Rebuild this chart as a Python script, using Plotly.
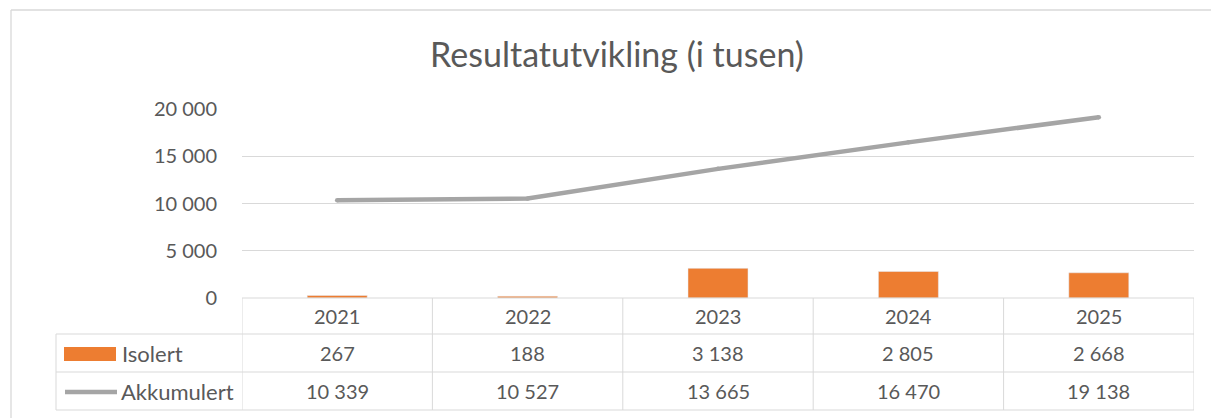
import plotly.graph_objects as go

years = ["2021", "2022", "2023", "2024", "2025"]
isolert = [267, 188, 3138, 2805, 2668]
akkumulert = [10339, 10527, 13665, 16470, 19138]
y_ticks = [0, 5000, 10000, 15000, 20000]
title_text = "Resultatutvikling (i tusen)"
series_names = ["Isolert", "Akkumulert"]

ORANGE = "#ED7D31"
GRAY = "#A5A5A5"
GRID = "#D9D9D9"
TXT = "#595959"
FONT = "Lato"

W, H = 1211, 418
# plot area in page pixels
L, R, T, B = 242, 1194, 109, 298


def px_x(px):
    return (px - L) / (R - L)


def px_y(py):
    return (B - py) / (B - T)


def fmt(v):
    return f"{v:,}".replace(",", " ")


fig = go.Figure()
fig.add_trace(go.Bar(x=years, y=isolert, name=series_names[0], marker_color=ORANGE,
                     width=0.315, showlegend=False))
fig.add_trace(go.Scatter(x=years, y=akkumulert, name=series_names[1], mode="lines+markers",
                         line=dict(color=GRAY, width=4.5), marker=dict(color=GRAY, size=4.5),
                         cliponaxis=False, showlegend=False))

shapes = []
annotations = []
line_style = dict(color=GRID, width=1)

# outer chart border (left and top edges visible)
border = dict(color=GRID, width=1.3)
shapes.append(dict(type="line", xref="paper", yref="paper", x0=px_x(11), x1=px_x(11),
                   y0=px_y(10), y1=px_y(420), line=border, layer="below"))
shapes.append(dict(type="line", xref="paper", yref="paper", x0=px_x(11), x1=px_x(1211),
                   y0=px_y(10), y1=px_y(10), line=border, layer="below"))

# table rows
row_y = [298, 334, 372, 410]
shapes.append(dict(type="line", xref="paper", yref="paper", x0=0, x1=1,
                   y0=px_y(298), y1=px_y(298), line=line_style))
for ry in row_y[1:]:
    shapes.append(dict(type="line", xref="paper", yref="paper", x0=px_x(56), x1=1,
                       y0=px_y(ry), y1=px_y(ry), line=line_style))
shapes.append(dict(type="line", xref="paper", yref="paper", x0=px_x(56), x1=px_x(56),
                   y0=px_y(334), y1=px_y(410), line=line_style))
for i in range(len(years) + 1):
    shapes.append(dict(type="line", xref="x", yref="paper", x0=i - 0.5, x1=i - 0.5,
                       y0=px_y(298), y1=px_y(410), line=line_style))

# header and values
row_centers = [316, 353, 391]
num_font = dict(family=FONT, size=20, color=TXT)
for i, yr in enumerate(years):
    for rc, txt in zip(row_centers, [yr, fmt(isolert[i]), fmt(akkumulert[i])]):
        annotations.append(dict(x=i, y=px_y(rc), xref="x", yref="paper", text=txt,
                                showarrow=False, xanchor="center", yanchor="middle",
                                font=num_font))

# legend keys
shapes.append(dict(type="rect", xref="paper", yref="paper", x0=px_x(64), x1=px_x(116),
                   y0=px_y(361), y1=px_y(347), fillcolor=ORANGE, line=dict(width=0)))
shapes.append(dict(type="line", xref="paper", yref="paper", x0=px_x(65), x1=px_x(117),
                   y0=px_y(392), y1=px_y(392), line=dict(color=GRAY, width=4.5)))
lab_font = dict(family=FONT, size=22, color=TXT)
annotations.append(dict(x=px_x(120), y=px_y(row_centers[1]), xref="paper", yref="paper",
                        text=series_names[0], showarrow=False, xanchor="left",
                        yanchor="middle", font=lab_font))
annotations.append(dict(x=px_x(119), y=px_y(row_centers[2]), xref="paper", yref="paper",
                        text=series_names[1], showarrow=False, xanchor="left",
                        yanchor="middle", font=lab_font))

fig.update_layout(
    width=W, height=H, autosize=False,
    margin=dict(l=L, r=W - R, t=T, b=H - B, pad=0),
    paper_bgcolor="white", plot_bgcolor="white",
    separators=", ",
    title=dict(text=title_text, x=617 / W, xanchor="center",
               y=1 - 55 / H, yanchor="middle",
               xref="container", yref="container",
               font=dict(family=FONT, size=34, color=TXT)),
    xaxis=dict(type="category", showticklabels=False, showgrid=False, zeroline=False,
               showline=False, ticks="", range=[-0.5, len(years) - 0.5]),
    yaxis=dict(range=[0, 20000], tickvals=y_ticks, tickformat=",d", showgrid=True,
               gridcolor=GRID, gridwidth=1, zeroline=False, showline=False,
               ticks="outside", ticklen=20, tickcolor="rgba(0,0,0,0)",
               tickfont=dict(family=FONT, size=20, color=TXT)),
    shapes=shapes, annotations=annotations,
)

fig.write_html(
    "out.html",
    config={"displayModeBar": False},
    post_script=(
        "document.documentElement.style.overflow='hidden';"
        "document.body.style.margin='0';document.body.style.overflow='hidden';"
    ),
)
